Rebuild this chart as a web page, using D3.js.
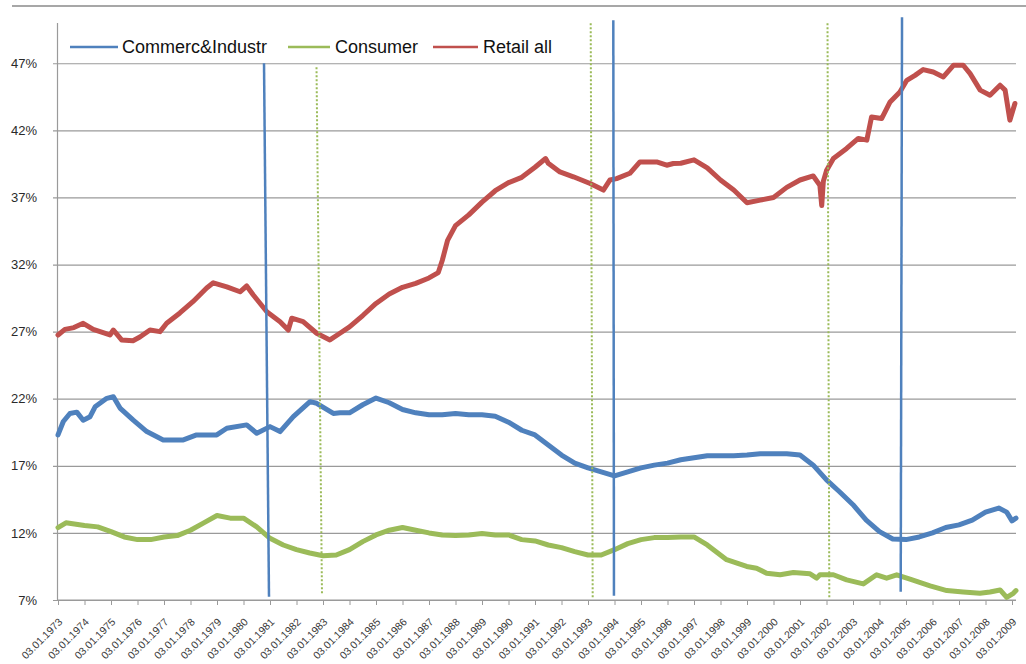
<!DOCTYPE html>
<html>
<head>
<meta charset="utf-8">
<script src="https://cdn.jsdelivr.net/npm/d3@7"></script>
<style>
  html, body { margin: 0; padding: 0; background: #ffffff; }
  svg { display: block; }
</style>
</head>
<body>
<svg id="chart" width="1026" height="664"></svg>
<script>
// Loan shares by segment, weekly series (decimal year, percent)
const commerceSeries = [
  [1973.0,19.3],[1973.2,20.3],[1973.45,20.9],[1973.71,21.0],[1973.95,20.4],[1974.21,20.66],
  [1974.4,21.4],[1974.84,22.03],[1975.09,22.15],[1975.34,21.3],[1975.84,20.4],[1976.35,19.55],
  [1976.97,18.93],[1977.73,18.93],[1978.23,19.3],[1978.99,19.3],[1979.37,19.8],[1980.12,20.05],
  [1980.5,19.43],[1981.0,19.92],[1981.38,19.55],[1981.88,20.66],[1982.51,21.78],[1982.76,21.66],
  [1983.39,20.9],[1983.64,20.95],[1984.0,20.95],[1984.5,21.55],[1985.0,22.05],[1985.5,21.7],
  [1986.0,21.2],[1986.5,20.95],[1987.0,20.8],[1987.5,20.8],[1988.0,20.9],[1988.5,20.8],
  [1989.0,20.8],[1989.5,20.7],[1990.0,20.25],[1990.5,19.65],[1991.0,19.3],[1991.5,18.55],
  [1992.0,17.8],[1992.5,17.2],[1993.0,16.85],[1993.5,16.55],[1994.0,16.25],[1994.5,16.55],
  [1995.0,16.85],[1995.5,17.05],[1996.0,17.2],[1996.5,17.45],[1997.0,17.6],[1997.5,17.75],
  [1998.0,17.75],[1998.5,17.75],[1999.0,17.8],[1999.5,17.9],[2000.0,17.9],[2000.5,17.9],
  [2001.0,17.8],[2001.5,17.05],[2002.0,15.95],[2002.5,15.05],[2003.0,14.1],[2003.5,12.95],
  [2004.0,12.1],[2004.5,11.55],[2005.0,11.5],[2005.5,11.7],[2006.0,12.0],[2006.5,12.4],
  [2007.0,12.6],[2007.5,12.95],[2008.0,13.55],[2008.5,13.85],[2008.8,13.55],[2009.0,12.9],
  [2009.15,13.1]
];

const consumerSeries = [
  [1973.0,12.4],[1973.3,12.75],[1974.0,12.55],[1974.5,12.45],[1975.0,12.1],[1975.5,11.7],
  [1976.0,11.5],[1976.5,11.5],[1977.0,11.7],[1977.5,11.8],[1978.0,12.2],[1978.5,12.75],
  [1979.0,13.3],[1979.5,13.1],[1980.0,13.1],[1980.5,12.45],[1981.0,11.6],[1981.5,11.1],
  [1982.0,10.75],[1982.5,10.5],[1983.0,10.3],[1983.5,10.35],[1984.0,10.75],[1984.5,11.35],
  [1985.0,11.85],[1985.5,12.2],[1986.0,12.4],[1986.5,12.2],[1987.0,12.0],[1987.5,11.85],
  [1988.0,11.8],[1988.5,11.85],[1989.0,11.95],[1989.5,11.85],[1990.0,11.85],[1990.5,11.5],
  [1991.0,11.4],[1991.5,11.1],[1992.0,10.9],[1992.5,10.6],[1993.0,10.35],[1993.5,10.35],
  [1994.0,10.75],[1994.5,11.2],[1995.0,11.5],[1995.5,11.65],[1996.0,11.65],[1996.5,11.7],
  [1997.0,11.7],[1997.5,11.1],[1998.23,10.0],[1998.99,9.5],[1999.36,9.37],[1999.74,9.0],
  [2000.25,8.88],[2000.75,9.05],[2001.38,8.95],[2001.63,8.63],[2001.75,8.88],[2002.26,8.88],
  [2002.76,8.5],[2003.39,8.2],[2003.89,8.88],[2004.27,8.63],[2004.65,8.88],[2005.15,8.55],
  [2005.91,8.05],[2006.54,7.7],[2007.16,7.6],[2007.79,7.5],[2008.17,7.6],[2008.55,7.75],
  [2008.8,7.2],[2009.05,7.5],[2009.15,7.7]
];

const retailSeries = [
  [1973.0,26.75],[1973.26,27.17],[1973.6,27.3],[1973.95,27.62],[1974.33,27.17],[1974.96,26.75],
  [1975.09,27.12],[1975.4,26.38],[1975.83,26.32],[1976.09,26.6],[1976.47,27.12],[1976.85,27.0],
  [1977.1,27.62],[1977.6,28.39],[1978.09,29.23],[1978.61,30.25],[1978.86,30.64],[1979.37,30.34],
  [1979.87,29.97],[1980.12,30.4],[1980.37,29.73],[1980.88,28.48],[1981.38,27.74],[1981.69,27.12],
  [1981.82,28.0],[1982.25,27.74],[1982.76,26.88],[1983.26,26.38],[1983.64,26.88],[1984.0,27.35],
  [1984.5,28.2],[1985.0,29.1],[1985.5,29.8],[1986.0,30.3],[1986.5,30.6],[1987.0,31.0],
  [1987.35,31.4],[1987.5,32.3],[1987.7,33.8],[1988.0,34.9],[1988.5,35.7],[1989.0,36.65],
  [1989.5,37.5],[1990.0,38.1],[1990.5,38.5],[1991.0,39.25],[1991.4,39.9],[1991.5,39.55],
  [1991.94,38.9],[1992.45,38.54],[1993.08,38.04],[1993.58,37.55],[1993.83,38.3],[1994.08,38.4],
  [1994.58,38.8],[1994.96,39.65],[1995.59,39.65],[1995.97,39.4],[1996.22,39.53],[1996.5,39.55],
  [1997.0,39.8],[1997.5,39.2],[1998.0,38.3],[1998.5,37.55],[1999.0,36.6],[1999.5,36.8],
  [2000.0,37.0],[2000.5,37.75],[2001.0,38.3],[2001.5,38.6],[2001.75,37.9],[2001.82,36.4],
  [2001.88,38.2],[2002.0,39.0],[2002.26,39.9],[2002.76,40.65],[2003.2,41.4],[2003.52,41.27],
  [2003.7,43.0],[2004.08,42.88],[2004.4,44.12],[2004.77,44.86],[2005.03,45.73],[2005.34,46.1],
  [2005.65,46.53],[2006.03,46.35],[2006.41,45.98],[2006.79,46.85],[2007.16,46.85],[2007.42,46.23],
  [2007.8,45.0],[2008.17,44.62],[2008.55,45.36],[2008.74,45.0],[2008.92,42.76],[2009.11,44.0]
];

// Turning-point markers: each is a pair of [year, percent] endpoints
const commerceMarkers = [
  [[1980.774,47.0],[1980.962,7.24]],
  [[1993.955,50.2],[1993.98,7.31]],
  [[2004.85,50.43],[2004.80,7.61]]
];
const consumerMarkers = [
  [[1982.755,46.7],[1982.962,7.39]],
  [[1993.102,49.98],[1993.177,7.17]],
  [[2002.038,49.98],[2002.106,7.09]]
];

const seriesNames = ["Commerc&Industr", "Consumer", "Retail all"];
const seriesColors = ["#4F81BD", "#9BBB59", "#C0504D"];
const yTickValues = [7, 12, 17, 22, 27, 32, 37, 42, 47];
const xTickYears = d3.range(1973, 2010);

const svg = d3.select("#chart");

const x = d3.scaleLinear().domain([1973, 2009]).range([58, 1012]);
const y = d3.scaleLinear().domain([7, 50]).range([600, 23]);
const plotRight = 1016;

// outer frame top edge
svg.append("line")
  .attr("x1", 12).attr("x2", 1026).attr("y1", 6).attr("y2", 6)
  .attr("stroke", "#8a8a8a").attr("stroke-width", 1.5);

// horizontal gridlines with left tick marks
const yAxis = d3.axisLeft(y)
  .tickValues(yTickValues)
  .tickSize(-(plotRight - 53))
  .tickPadding(0)
  .tickFormat(d => d + "%");
const gy = svg.append("g").attr("transform", "translate(53,0)").call(yAxis);
gy.select(".domain").remove();
gy.selectAll(".tick line").attr("stroke", "#9a9a9a").attr("stroke-width", 1.2);
gy.selectAll(".tick text")
  .attr("x", -16)
  .attr("fill", "#2a2a2a")
  .style("font-family", "'Liberation Sans', Arial, sans-serif")
  .style("font-size", "13px");

// vertical axis line
svg.append("line")
  .attr("x1", 57.5).attr("x2", 57.5).attr("y1", y(50)).attr("y2", y(7))
  .attr("stroke", "#9a9a9a").attr("stroke-width", 1.2);

// bottom axis with yearly ticks
const xAxis = d3.axisBottom(x)
  .tickValues(xTickYears)
  .tickSize(5)
  .tickFormat(d => "03.01." + d);
const gx = svg.append("g").attr("transform", "translate(0,600)").call(xAxis);
gx.select(".domain").remove();
gx.append("line").attr("x1", 57.5).attr("x2", plotRight).attr("y1", 0).attr("y2", 0)
  .attr("stroke", "#9a9a9a").attr("stroke-width", 1.2);
gx.selectAll(".tick line").attr("stroke", "#9a9a9a");
gx.selectAll(".tick text")
  .attr("y", 0)
  .attr("text-anchor", "end")
  .attr("transform", "translate(2,20) rotate(-45)")
  .attr("dy", "0.35em")
  .attr("fill", "#3a3a3a")
  .style("font-family", "'Liberation Sans', Arial, sans-serif")
  .style("font-size", "10.5px");

const line = d3.line().x(d => x(d[0])).y(d => y(d[1]));

// data series
[commerceSeries, consumerSeries, retailSeries].forEach((s, i) => {
  svg.append("path")
    .datum(s)
    .attr("d", line)
    .attr("fill", "none")
    .attr("stroke", seriesColors[i])
    .attr("stroke-width", 5)
    .attr("stroke-linejoin", "round")
    .attr("stroke-linecap", "round");
});

// marker lines
consumerMarkers.forEach(m => {
  svg.append("path").datum(m).attr("d", line)
    .attr("fill", "none").attr("stroke", seriesColors[1])
    .attr("stroke-width", 2).attr("stroke-dasharray", "2,2");
});
commerceMarkers.forEach(m => {
  svg.append("path").datum(m).attr("d", line)
    .attr("fill", "none").attr("stroke", seriesColors[0])
    .attr("stroke-width", 2.5);
});

// legend
const legendItems = [
  { x1: 70, x2: 118, tx: 122 },
  { x1: 288, x2: 330, tx: 335 },
  { x1: 433, x2: 478, tx: 483 }
];
const lg = svg.append("g");
legendItems.forEach((it, i) => {
  lg.append("line").attr("x1", it.x1).attr("x2", it.x2).attr("y1", 47).attr("y2", 47)
    .attr("stroke", seriesColors[i]).attr("stroke-width", 2.5);
  lg.append("text").attr("x", it.tx).attr("y", 47).attr("dy", "0.35em")
    .attr("fill", "#111")
    .style("font-family", "'Liberation Sans', Arial, sans-serif")
    .style("font-size", "18px")
    .text(seriesNames[i]);
});
</script>
</body>
</html>
